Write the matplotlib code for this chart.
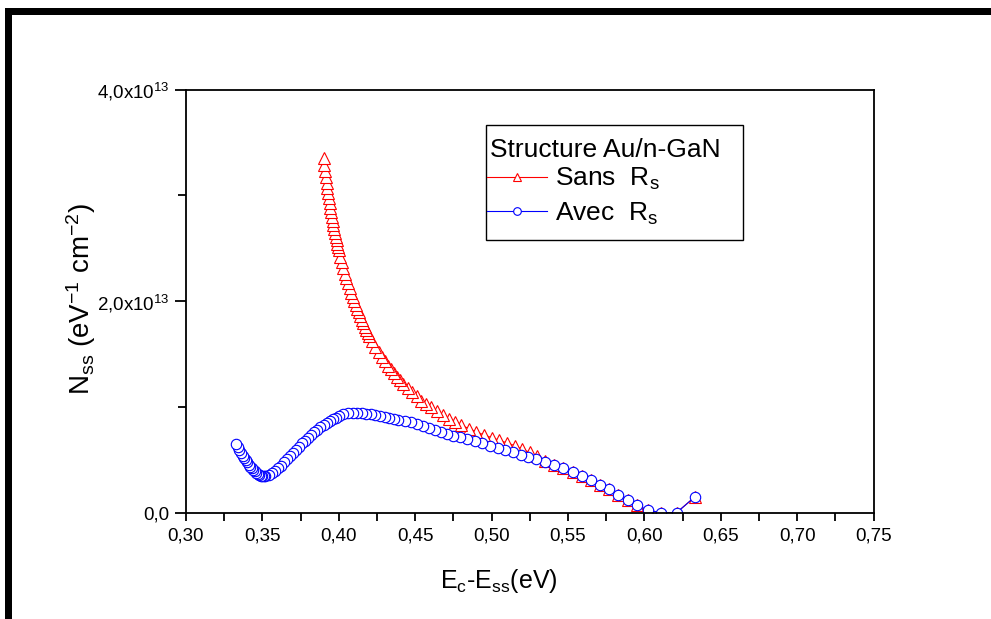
import matplotlib
matplotlib.use("Agg")
import numpy as np
import matplotlib.pyplot as plt
from matplotlib.ticker import MultipleLocator, FuncFormatter
from matplotlib.lines import Line2D
from matplotlib.patches import Rectangle

plt.rcParams['font.family'] = ['Liberation Sans', 'DejaVu Sans']
plt.rcParams['mathtext.fontset'] = 'custom'
plt.rcParams['mathtext.rm'] = 'Liberation Sans'
plt.rcParams['mathtext.it'] = 'Liberation Sans'
plt.rcParams['mathtext.bf'] = 'Liberation Sans'

# Interface state density, Au/n-GaN, series resistance not corrected (Sans Rs)
e_sans = [0.390, 0.3905, 0.391, 0.3915, 0.392, 0.3925, 0.393, 0.3935, 0.394, 0.3945,
          0.395, 0.3955, 0.396, 0.3965, 0.397, 0.3975, 0.398, 0.3985, 0.399, 0.3995,
          0.400, 0.401, 0.402, 0.403, 0.404, 0.405, 0.406, 0.407, 0.408, 0.409,
          0.410, 0.411, 0.412, 0.413, 0.414, 0.415, 0.416, 0.417, 0.418, 0.419,
          0.420, 0.422, 0.424, 0.426, 0.428, 0.430, 0.432, 0.434, 0.436, 0.438,
          0.440, 0.442, 0.445, 0.448, 0.451, 0.454, 0.457, 0.460, 0.464, 0.468,
          0.472, 0.476, 0.480, 0.485, 0.490, 0.495, 0.500, 0.505, 0.510, 0.515,
          0.520, 0.525, 0.530, 0.535, 0.541, 0.547, 0.553, 0.559, 0.565, 0.571,
          0.577, 0.583, 0.589, 0.595, 0.602, 0.611, 0.621, 0.633]
n_sans = [3.35, 3.29, 3.23, 3.175, 3.12, 3.07, 3.02, 2.975, 2.93, 2.885,
          2.84, 2.80, 2.76, 2.72, 2.68, 2.645, 2.61, 2.575, 2.54, 2.51,
          2.48, 2.42, 2.37, 2.315, 2.26, 2.215, 2.17, 2.125, 2.08, 2.04,
          2.00, 1.965, 1.93, 1.895, 1.86, 1.825, 1.79, 1.76, 1.73, 1.70,
          1.67, 1.62, 1.57, 1.52, 1.47, 1.43, 1.39, 1.355, 1.32, 1.285,
          1.255, 1.22, 1.18, 1.14, 1.10, 1.06, 1.03, 1.00, 0.96, 0.925,
          0.89, 0.86, 0.83, 0.795, 0.765, 0.735, 0.71, 0.685, 0.66, 0.635,
          0.60, 0.57, 0.535, 0.49, 0.455, 0.42, 0.385, 0.345, 0.305, 0.26,
          0.22, 0.17, 0.12, 0.07, 0.025, 0.0, 0.0, 0.15]

# Same structure, series resistance corrected (Avec Rs)
e_avec = [0.333, 0.334, 0.335, 0.336, 0.337, 0.338, 0.339, 0.340, 0.341, 0.342,
          0.343, 0.344, 0.345, 0.346, 0.347, 0.348, 0.349, 0.350, 0.351, 0.352,
          0.354, 0.356, 0.358, 0.360, 0.362, 0.364, 0.366, 0.368, 0.370, 0.372,
          0.374, 0.376, 0.378, 0.380, 0.382, 0.384, 0.386, 0.388, 0.390, 0.392,
          0.394, 0.396, 0.398, 0.400, 0.403, 0.406, 0.409, 0.412, 0.415, 0.418,
          0.421, 0.424, 0.427, 0.430, 0.433, 0.436, 0.439, 0.443, 0.447, 0.451,
          0.455, 0.459, 0.463, 0.467, 0.471, 0.475, 0.479, 0.484, 0.489, 0.494,
          0.499, 0.504, 0.509, 0.514, 0.519, 0.524, 0.529, 0.535, 0.541, 0.547,
          0.553, 0.559, 0.565, 0.571, 0.577, 0.583, 0.589, 0.595, 0.602, 0.611,
          0.621, 0.633]
n_avec = [0.65, 0.62, 0.59, 0.565, 0.54, 0.515, 0.495, 0.475, 0.455, 0.435,
          0.42, 0.405, 0.39, 0.375, 0.365, 0.355, 0.35, 0.345, 0.345, 0.35,
          0.36, 0.375, 0.395, 0.42, 0.445, 0.475, 0.505, 0.535, 0.565, 0.595,
          0.625, 0.655, 0.68, 0.71, 0.735, 0.76, 0.785, 0.81, 0.83, 0.85,
          0.87, 0.885, 0.90, 0.915, 0.93, 0.94, 0.945, 0.945, 0.94, 0.935,
          0.93, 0.925, 0.915, 0.905, 0.90, 0.89, 0.88, 0.87, 0.855, 0.84,
          0.82, 0.80, 0.785, 0.765, 0.745, 0.73, 0.715, 0.695, 0.675, 0.655,
          0.635, 0.615, 0.595, 0.575, 0.55, 0.53, 0.51, 0.48, 0.45, 0.42,
          0.385, 0.345, 0.305, 0.26, 0.22, 0.17, 0.12, 0.07, 0.025, 0.0,
          0.0, 0.15]

x_ticks = [0.30, 0.35, 0.40, 0.45, 0.50, 0.55, 0.60, 0.65, 0.70, 0.75]
y_ticks = [0.0, 2.0e13, 4.0e13]
legend_title = "Structure Au/n-GaN"
legend_labels = [r"Sans  R$_{\mathregular{s}}$", r"Avec  R$_{\mathregular{s}}$"]

W, H = 991, 619
fig = plt.figure(figsize=(W / 100, H / 100), dpi=100)
ax = fig.add_axes([186 / W, 1 - 512.7 / H, 687.7 / W, 423 / H])

# points were acquired from high to low energy; drawing in that order
sans_x = np.array(e_sans)[::-1]
sans_y = np.array(n_sans)[::-1] * 1e13
avec_x = np.array(e_avec)[::-1]
avec_y = np.array(n_avec)[::-1] * 1e13

ax.plot(sans_x, sans_y, color='red', lw=0.8, marker='^', ms=8.5,
        mfc='white', mec='red', mew=0.8)
ax.plot(avec_x, avec_y, color='blue', lw=0.8, marker='o', ms=7.5,
        mfc='white', mec='blue', mew=0.8)

ax.set_xlim(0.30, 0.75)
ax.set_ylim(0, 4.0e13)
ax.set_xticks(x_ticks)
ax.xaxis.set_minor_locator(MultipleLocator(0.025))
ax.set_yticks(y_ticks)
ax.yaxis.set_minor_locator(MultipleLocator(1.0e13))


def fmt_x(v, pos):
    return f"{v:.2f}".replace('.', ',')


def fmt_y(v, pos):
    if abs(v) < 1:
        return "0,0"
    m = v / 1e13
    return f"{m:.1f}".replace('.', ',') + r"x10$^{\mathregular{13}}$"


ax.xaxis.set_major_formatter(FuncFormatter(fmt_x))
ax.yaxis.set_major_formatter(FuncFormatter(fmt_y))

for s in ax.spines.values():
    s.set_linewidth(1.3)
ax.tick_params(axis='x', which='major', direction='out', length=6, width=1.3,
               labelsize=13.5, pad=5)
ax.tick_params(axis='x', which='minor', direction='out', length=6, width=1.3)
ax.tick_params(axis='y', which='major', direction='out', length=8, width=1.3,
               labelsize=13.5, pad=4)
ax.tick_params(axis='y', which='minor', direction='out', length=6, width=1.3)

ax.set_xlabel(r"E$_{\mathregular{c}}$-E$_{\mathregular{ss}}$(eV)", fontsize=18,
              va='top')
ax.xaxis.set_label_coords(0.455, -0.128)
ax.set_ylabel(r"N$_{\mathregular{ss}}$ (eV$^{\mathregular{-1}}$ cm$^{\mathregular{-2}}$)",
              fontsize=20)
ax.yaxis.set_label_coords(-0.128, 0.505)

# legend: framed box holding a title line and the two series entries
ax.add_patch(Rectangle((0.4362, 0.6447), 0.3738, 0.2719, transform=ax.transAxes,
                       facecolor='white', edgecolor='black', lw=1.0, zorder=4))
ax.text(0.4420, 0.857, legend_title, transform=ax.transAxes, fontsize=19,
        ha='left', va='center', zorder=5)
handles = [
    Line2D([], [], color='red', lw=0.8, marker='^', ms=6, mfc='white', mec='red', mew=0.8),
    Line2D([], [], color='blue', lw=0.8, marker='o', ms=5.5, mfc='white', mec='blue', mew=0.8),
]
leg = ax.legend(handles, legend_labels, loc='center left',
                bbox_to_anchor=(0.4376, 0.748), fontsize=19, frameon=False,
                handlelength=2.27, handletextpad=0.3, borderpad=0,
                labelspacing=0.32, borderaxespad=0)
leg.set_zorder(6)

# heavy frame along the top and left edges of the figure
fig.add_artist(Rectangle((5 / W, 1 - 15 / H), 1, 7 / H, transform=fig.transFigure,
                         color='black', lw=0))
fig.add_artist(Rectangle((5 / W, 0), 7 / W, 1 - 8 / H, transform=fig.transFigure,
                         color='black', lw=0))

fig.savefig("out.png", dpi=100)
